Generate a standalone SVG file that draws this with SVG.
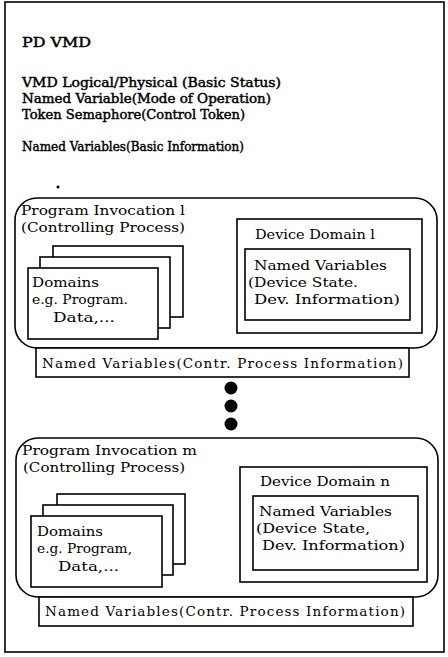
<svg xmlns="http://www.w3.org/2000/svg" width="448" height="657" viewBox="0 0 448 657">
  <style>
    .ln { fill: #fff; stroke: #000; stroke-width: 1.6; }
    .rl { fill: none; stroke: #000; stroke-width: 1.6; }
    text { font-family: "DejaVu Serif", "Liberation Serif", serif; font-size: 13.5px; fill: #000; }
    .b { font-size: 13px; stroke: #000; stroke-width: 0.45; }
  </style>
  <rect width="448" height="657" fill="#fff"/>

  <!-- outer VMD frame -->
  <g id="vmd">
    <rect class="rl" x="5" y="2" width="439" height="650"/>
    <text class="b" x="22" y="47" textLength="69" lengthAdjust="spacingAndGlyphs">PD VMD</text>
    <text class="b" x="22" y="87" textLength="259" lengthAdjust="spacingAndGlyphs">VMD Logical/Physical (Basic Status)</text>
    <text class="b" x="22" y="103" textLength="249" lengthAdjust="spacingAndGlyphs">Named Variable(Mode of Operation)</text>
    <text class="b" x="22" y="119" textLength="223" lengthAdjust="spacingAndGlyphs">Token Semaphore(Control Token)</text>
    <text class="b" x="22" y="151" textLength="222" lengthAdjust="spacingAndGlyphs">Named Variables(Basic Information)</text>
    <circle cx="58" cy="187" r="1.5" fill="#000"/>
  </g>

  <!-- program invocation 1 -->
  <g id="pi1">
    <rect class="rl" x="15" y="198" width="422" height="150" rx="22"/>
    <text x="21" y="215" textLength="164" lengthAdjust="spacingAndGlyphs">Program Invocation l</text>
    <text x="21" y="232" textLength="164" lengthAdjust="spacingAndGlyphs">(Controlling Process)</text>
  </g>
  <g id="domains1">
    <rect class="ln" x="53" y="246" width="130" height="71"/>
    <rect class="ln" x="40" y="257" width="130" height="71"/>
    <rect class="ln" x="28" y="268" width="130" height="71"/>
    <text x="32" y="287" textLength="67" lengthAdjust="spacingAndGlyphs">Domains</text>
    <text x="32" y="304" textLength="96" lengthAdjust="spacingAndGlyphs">e.g. Program.</text>
    <text x="53" y="322" textLength="62" lengthAdjust="spacingAndGlyphs">Data,...</text>
  </g>
  <g id="device1">
    <rect class="ln" x="237" y="219" width="185" height="114"/>
    <text x="255" y="239" textLength="120" lengthAdjust="spacingAndGlyphs">Device Domain l</text>
    <rect class="ln" x="245" y="249" width="165" height="71"/>
    <text x="254" y="270" textLength="133" lengthAdjust="spacingAndGlyphs">Named Variables</text>
    <text x="248" y="287" textLength="110" lengthAdjust="spacingAndGlyphs">(Device State.</text>
    <text x="254" y="304" textLength="146" lengthAdjust="spacingAndGlyphs">Dev. Information)</text>
  </g>
  <g id="nv1">
    <rect class="ln" x="36" y="348" width="373" height="29"/>
    <text x="42" y="368" textLength="361" lengthAdjust="spacing">Named Variables(Contr. Process Information)</text>
  </g>

  <!-- continuation dots -->
  <g id="ellipsis">
    <circle cx="231" cy="388" r="6.5" fill="#000"/>
    <circle cx="231" cy="406" r="6.5" fill="#000"/>
    <circle cx="231" cy="424" r="6.5" fill="#000"/>
  </g>

  <!-- program invocation m -->
  <g id="pim">
    <rect class="rl" x="16" y="438" width="422" height="159" rx="22"/>
    <text x="22" y="455" textLength="175" lengthAdjust="spacingAndGlyphs">Program Invocation m</text>
    <text x="23" y="472" textLength="162" lengthAdjust="spacingAndGlyphs">(Controlling Process)</text>
  </g>
  <g id="domainsm">
    <rect class="ln" x="57" y="494" width="128" height="70"/>
    <rect class="ln" x="43" y="505" width="130" height="70"/>
    <rect class="ln" x="31" y="516" width="131" height="71"/>
    <text x="37" y="536" textLength="66" lengthAdjust="spacingAndGlyphs">Domains</text>
    <text x="37" y="553" textLength="95" lengthAdjust="spacingAndGlyphs">e.g. Program,</text>
    <text x="58" y="571" textLength="61" lengthAdjust="spacingAndGlyphs">Data,...</text>
  </g>
  <g id="devicen">
    <rect class="ln" x="240" y="467" width="187" height="115"/>
    <text x="260" y="486" textLength="130" lengthAdjust="spacingAndGlyphs">Device Domain n</text>
    <rect class="ln" x="253" y="496" width="165" height="74"/>
    <text x="259" y="516" textLength="133" lengthAdjust="spacingAndGlyphs">Named Variables</text>
    <text x="256" y="533" textLength="114" lengthAdjust="spacingAndGlyphs">(Device State,</text>
    <text x="262" y="550" textLength="143" lengthAdjust="spacingAndGlyphs">Dev. Information)</text>
  </g>
  <g id="nvm">
    <rect class="ln" x="39" y="597" width="374" height="29"/>
    <text x="45" y="616" textLength="360" lengthAdjust="spacing">Named Variables(Contr. Process Information)</text>
  </g>
</svg>
